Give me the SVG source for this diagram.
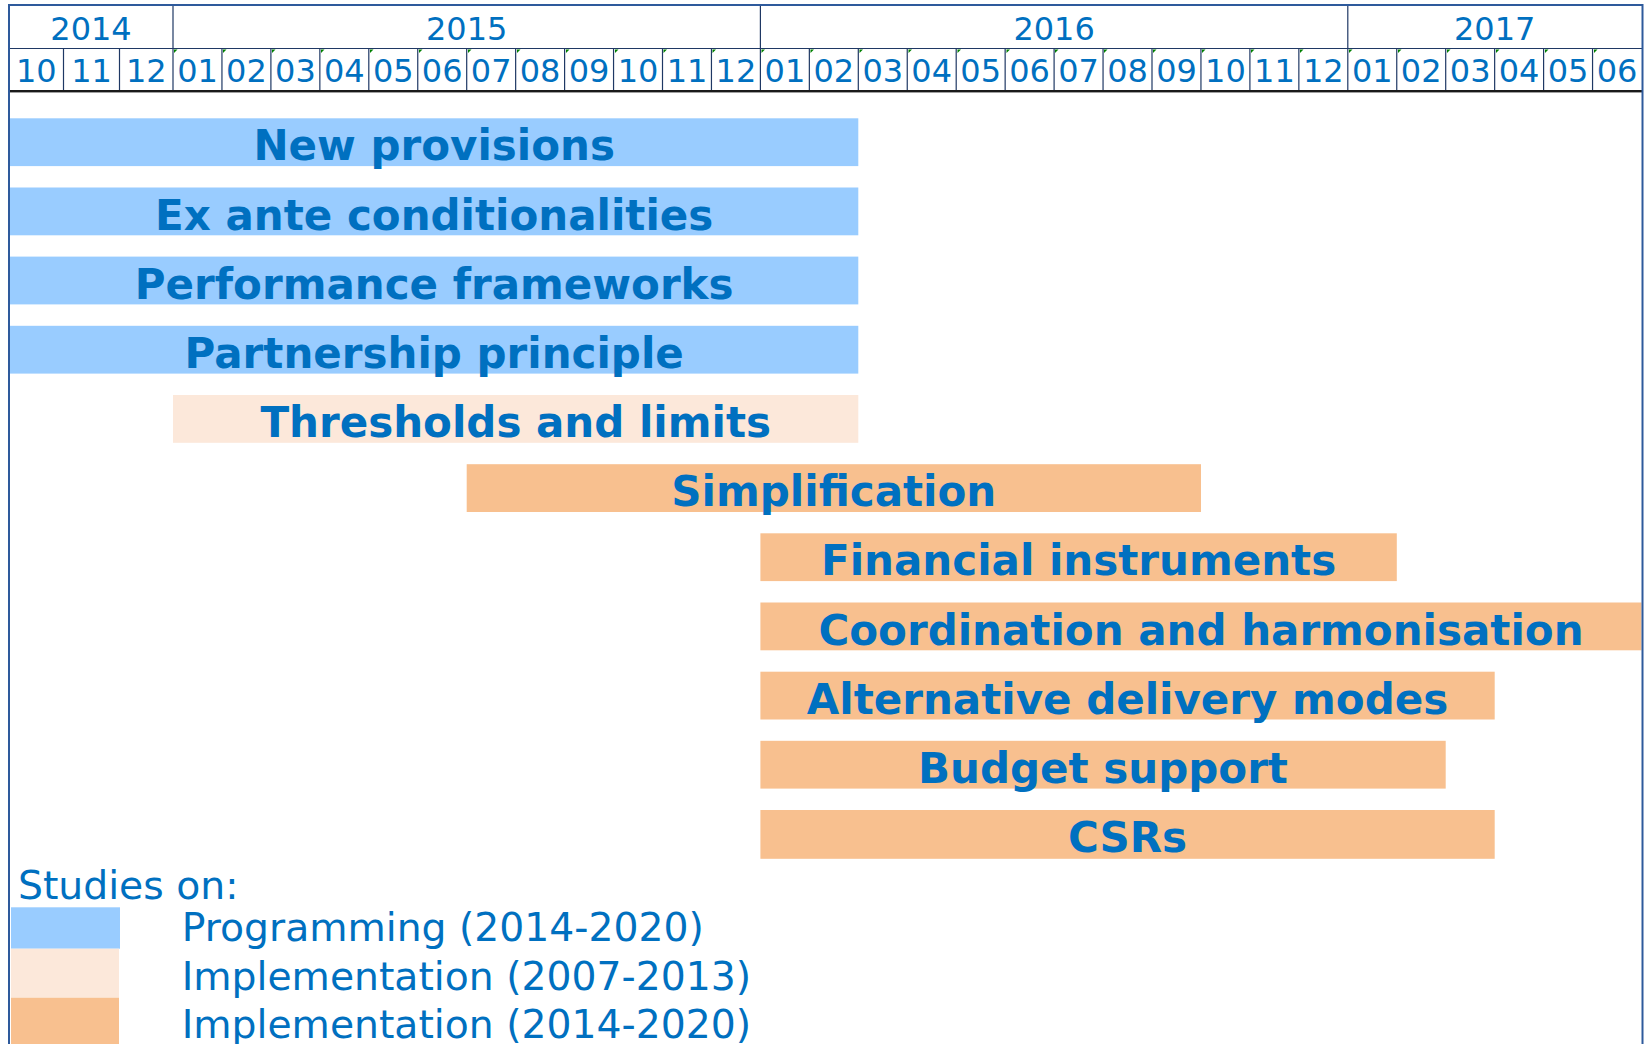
<svg xmlns="http://www.w3.org/2000/svg" width="1649" height="1044" viewBox="0 0 1649 1044">
<style>
  .grid { stroke: #1F3864; stroke-width: 1.2; fill: none; }
  .yr { font-family: "DejaVu Sans", Verdana, sans-serif; font-size: 32px; fill: #0070C0; text-anchor: middle; }
  .mo { font-family: "DejaVu Sans", Verdana, sans-serif; font-size: 32px; fill: #0070C0; text-anchor: middle; }
  .lbl { font-family: "DejaVu Sans", Verdana, sans-serif; font-size: 42px; font-weight: bold; fill: #0070C0; text-anchor: middle; }
  .leg { font-family: "DejaVu Sans", Verdana, sans-serif; font-size: 39.3px; fill: #0070C0; }
  .prog { fill: #99CCFF; }
  .old { fill: #FCE8DA; }
  .impl { fill: #F8C08F; }
  .flag { fill: #008000; }
</style>
<rect width="1649" height="1044" fill="#FFFFFF"/>

<!-- header grid -->
<g id="header">
  <line class="grid" x1="9" y1="48.5" x2="1642" y2="48.5"/>
  <line class="grid" x1="173" y1="5" x2="173" y2="90.5"/>
  <line class="grid" x1="760.4" y1="5" x2="760.4" y2="90.5"/>
  <line class="grid" x1="1347.8" y1="5" x2="1347.8" y2="90.5"/>
  <g class="grid">
    <line x1="63.5" y1="48.5" x2="63.5" y2="90.5"/>
    <line x1="119.5" y1="48.5" x2="119.5" y2="90.5"/>
    <line x1="221.95" y1="48.5" x2="221.95" y2="90.5"/>
    <line x1="270.9" y1="48.5" x2="270.9" y2="90.5"/>
    <line x1="319.85" y1="48.5" x2="319.85" y2="90.5"/>
    <line x1="368.8" y1="48.5" x2="368.8" y2="90.5"/>
    <line x1="417.75" y1="48.5" x2="417.75" y2="90.5"/>
    <line x1="466.7" y1="48.5" x2="466.7" y2="90.5"/>
    <line x1="515.65" y1="48.5" x2="515.65" y2="90.5"/>
    <line x1="564.6" y1="48.5" x2="564.6" y2="90.5"/>
    <line x1="613.55" y1="48.5" x2="613.55" y2="90.5"/>
    <line x1="662.5" y1="48.5" x2="662.5" y2="90.5"/>
    <line x1="711.45" y1="48.5" x2="711.45" y2="90.5"/>
    <line x1="809.35" y1="48.5" x2="809.35" y2="90.5"/>
    <line x1="858.3" y1="48.5" x2="858.3" y2="90.5"/>
    <line x1="907.25" y1="48.5" x2="907.25" y2="90.5"/>
    <line x1="956.2" y1="48.5" x2="956.2" y2="90.5"/>
    <line x1="1005.15" y1="48.5" x2="1005.15" y2="90.5"/>
    <line x1="1054.1" y1="48.5" x2="1054.1" y2="90.5"/>
    <line x1="1103.05" y1="48.5" x2="1103.05" y2="90.5"/>
    <line x1="1152" y1="48.5" x2="1152" y2="90.5"/>
    <line x1="1200.95" y1="48.5" x2="1200.95" y2="90.5"/>
    <line x1="1249.9" y1="48.5" x2="1249.9" y2="90.5"/>
    <line x1="1298.85" y1="48.5" x2="1298.85" y2="90.5"/>
    <line x1="1396.75" y1="48.5" x2="1396.75" y2="90.5"/>
    <line x1="1445.7" y1="48.5" x2="1445.7" y2="90.5"/>
    <line x1="1494.65" y1="48.5" x2="1494.65" y2="90.5"/>
    <line x1="1543.6" y1="48.5" x2="1543.6" y2="90.5"/>
    <line x1="1592.55" y1="48.5" x2="1592.55" y2="90.5"/>
  </g>
  <line x1="9" y1="91" x2="1642" y2="91" stroke="#1A1A1A" stroke-width="2"/>
  <line x1="9" y1="92.5" x2="1642" y2="92.5" stroke="#A0A0A0" stroke-width="1"/>

  <g id="flags" class="flag">
    <polygon points="174,49.5 177.5,49.5 174,53"/>
    <polygon points="223,49.5 226.5,49.5 223,53"/>
    <polygon points="272,49.5 275.5,49.5 272,53"/>
    <polygon points="321,49.5 324.5,49.5 321,53"/>
    <polygon points="370,49.5 373.5,49.5 370,53"/>
    <polygon points="419,49.5 422.5,49.5 419,53"/>
    <polygon points="468,49.5 471.5,49.5 468,53"/>
    <polygon points="517,49.5 520.5,49.5 517,53"/>
    <polygon points="566,49.5 569.5,49.5 566,53"/>
    <polygon points="615,49.5 618.5,49.5 615,53"/>
    <polygon points="663.5,49.5 667,49.5 663.5,53"/>
    <polygon points="712.5,49.5 716,49.5 712.5,53"/>
    <polygon points="761.5,49.5 765,49.5 761.5,53"/>
    <polygon points="810.5,49.5 814,49.5 810.5,53"/>
    <polygon points="859.5,49.5 863,49.5 859.5,53"/>
    <polygon points="908.5,49.5 912,49.5 908.5,53"/>
    <polygon points="957.5,49.5 961,49.5 957.5,53"/>
    <polygon points="1006.5,49.5 1010,49.5 1006.5,53"/>
    <polygon points="1055,49.5 1058.5,49.5 1055,53"/>
    <polygon points="1104,49.5 1107.5,49.5 1104,53"/>
    <polygon points="1153,49.5 1156.5,49.5 1153,53"/>
    <polygon points="1202,49.5 1205.5,49.5 1202,53"/>
    <polygon points="1251,49.5 1254.5,49.5 1251,53"/>
    <polygon points="1300,49.5 1303.5,49.5 1300,53"/>
    <polygon points="1349,49.5 1352.5,49.5 1349,53"/>
    <polygon points="1398,49.5 1401.5,49.5 1398,53"/>
    <polygon points="1447,49.5 1450.5,49.5 1447,53"/>
    <polygon points="1496,49.5 1499.5,49.5 1496,53"/>
    <polygon points="1545,49.5 1548.5,49.5 1545,53"/>
    <polygon points="1594,49.5 1597.5,49.5 1594,53"/>
  </g>

  <g id="years">
    <text class="yr" x="91" y="39.5">2014</text>
    <text class="yr" x="466.7" y="39.5">2015</text>
    <text class="yr" x="1054.1" y="39.5">2016</text>
    <text class="yr" x="1494.7" y="39.5">2017</text>
  </g>
  <g id="months">
    <text class="mo" x="36.3" y="81.7">10</text>
    <text class="mo" x="91.5" y="81.7">11</text>
    <text class="mo" x="146.3" y="81.7">12</text>
    <text class="mo" x="197.5" y="81.7">01</text>
    <text class="mo" x="246.4" y="81.7">02</text>
    <text class="mo" x="295.4" y="81.7">03</text>
    <text class="mo" x="344.3" y="81.7">04</text>
    <text class="mo" x="393.3" y="81.7">05</text>
    <text class="mo" x="442.2" y="81.7">06</text>
    <text class="mo" x="491.2" y="81.7">07</text>
    <text class="mo" x="540.1" y="81.7">08</text>
    <text class="mo" x="589.1" y="81.7">09</text>
    <text class="mo" x="638.0" y="81.7">10</text>
    <text class="mo" x="687.0" y="81.7">11</text>
    <text class="mo" x="735.9" y="81.7">12</text>
    <text class="mo" x="784.9" y="81.7">01</text>
    <text class="mo" x="833.8" y="81.7">02</text>
    <text class="mo" x="882.8" y="81.7">03</text>
    <text class="mo" x="931.7" y="81.7">04</text>
    <text class="mo" x="980.7" y="81.7">05</text>
    <text class="mo" x="1029.6" y="81.7">06</text>
    <text class="mo" x="1078.6" y="81.7">07</text>
    <text class="mo" x="1127.5" y="81.7">08</text>
    <text class="mo" x="1176.5" y="81.7">09</text>
    <text class="mo" x="1225.4" y="81.7">10</text>
    <text class="mo" x="1274.4" y="81.7">11</text>
    <text class="mo" x="1323.3" y="81.7">12</text>
    <text class="mo" x="1372.3" y="81.7">01</text>
    <text class="mo" x="1421.2" y="81.7">02</text>
    <text class="mo" x="1470.2" y="81.7">03</text>
    <text class="mo" x="1519.1" y="81.7">04</text>
    <text class="mo" x="1568.1" y="81.7">05</text>
    <text class="mo" x="1617.0" y="81.7">06</text>
  </g>
</g>

<!-- bars (nodes) -->
<g id="new-provisions">
  <rect class="prog" x="10" y="118.3" width="848.3" height="47.8"/>
  <text class="lbl" x="434.2" y="160.3">New provisions</text>
</g>
<g id="ex-ante">
  <rect class="prog" x="10" y="187.5" width="848.3" height="47.8"/>
  <text class="lbl" x="434.2" y="229.5">Ex ante conditionalities</text>
</g>
<g id="performance-frameworks">
  <rect class="prog" x="10" y="256.6" width="848.3" height="47.8"/>
  <text class="lbl" x="434.2" y="298.6">Performance frameworks</text>
</g>
<g id="partnership-principle">
  <rect class="prog" x="10" y="325.8" width="848.3" height="47.8"/>
  <text class="lbl" x="434.2" y="367.8">Partnership principle</text>
</g>
<g id="thresholds">
  <rect class="old" x="173" y="395" width="685.3" height="47.8"/>
  <text class="lbl" x="515.7" y="437">Thresholds and limits</text>
</g>
<g id="simplification">
  <rect class="impl" x="466.7" y="464.2" width="734.3" height="47.8"/>
  <text class="lbl" x="833.8" y="506.2">Simplification</text>
</g>
<g id="financial-instruments">
  <rect class="impl" x="760.4" y="533.3" width="636.4" height="47.8"/>
  <text class="lbl" x="1078.6" y="575.3">Financial instruments</text>
</g>
<g id="coordination">
  <rect class="impl" x="760.4" y="602.5" width="881.1" height="47.8"/>
  <text class="lbl" x="1201" y="644.5">Coordination and harmonisation</text>
</g>
<g id="alternative-delivery">
  <rect class="impl" x="760.4" y="671.7" width="734.3" height="47.8"/>
  <text class="lbl" x="1127.5" y="713.7">Alternative delivery modes</text>
</g>
<g id="budget-support">
  <rect class="impl" x="760.4" y="740.8" width="685.3" height="47.8"/>
  <text class="lbl" x="1103" y="782.8">Budget support</text>
</g>
<g id="csrs">
  <rect class="impl" x="760.4" y="810" width="734.3" height="48.8"/>
  <text class="lbl" x="1127.5" y="852">CSRs</text>
</g>

<!-- legend -->
<g id="legend">
  <text class="leg" x="18" y="899" font-size="40.2">Studies on:</text>
  <rect class="prog" x="11" y="907.3" width="109" height="41.4"/>
  <rect class="old" x="11" y="948.7" width="108" height="49"/>
  <rect class="impl" x="11" y="997.7" width="108" height="50"/>
  <text class="leg" x="181.7" y="941">Programming (2014-2020)</text>
  <text class="leg" x="181.7" y="989.5">Implementation (2007-2013)</text>
  <text class="leg" x="181.7" y="1038">Implementation (2014-2020)</text>
</g>

<!-- outer frame -->
<rect x="9" y="5" width="1633.5" height="1060" fill="none" stroke="#2E5A9C" stroke-width="2"/>
</svg>
